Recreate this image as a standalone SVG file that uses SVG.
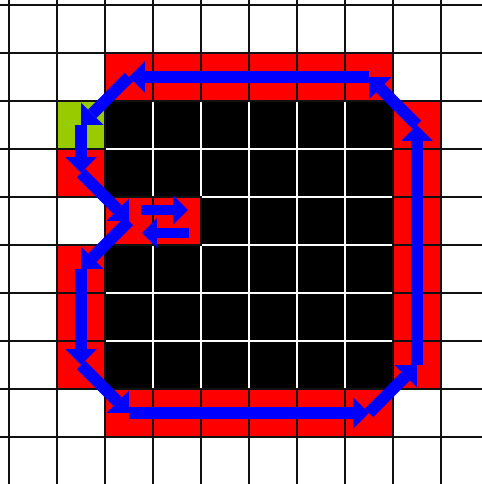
<svg xmlns="http://www.w3.org/2000/svg" width="482" height="484" viewBox="0 0 482 484">
<style>
.w{fill:#fff}.r{fill:#ff0000}.k{fill:#000}.g{fill:#99cc00}
.gl{stroke:#111;stroke-width:2}
.wl{stroke:#fff;stroke-width:2}
.a{stroke:#0000ff;stroke-width:12;fill:none;marker-end:url(#ah)}
.s{stroke:#0000ff;stroke-width:10;fill:none;marker-end:url(#hs)}
</style>
<defs>
<marker id="ah" markerUnits="userSpaceOnUse" markerWidth="20" markerHeight="36" refX="0" refY="0" orient="auto" overflow="visible"><path d="M0,-16 L16,0 L0,16 Z" fill="#0000ff"/></marker>
<marker id="hs" markerUnits="userSpaceOnUse" markerWidth="20" markerHeight="36" refX="0" refY="0" orient="auto" overflow="visible"><path d="M0,-15 L15,0 L0,15 Z" fill="#0000ff"/></marker>
</defs>
<rect class="w" x="0" y="0" width="482" height="484"/>
<g id="cells">
<rect class="r" x="105" y="53" width="288" height="48"/>
<rect class="g" x="57" y="101" width="48" height="48"/>
<rect class="k" x="105" y="101" width="288" height="288"/>
<rect class="r" x="393" y="101" width="48" height="288"/>
<rect class="r" x="57" y="149" width="48" height="48"/>
<rect class="r" x="57" y="245" width="48" height="144"/>
<rect class="r" x="105" y="197" width="96" height="48"/>
<rect class="r" x="105" y="389" width="288" height="48"/>
</g>
<g id="grid">
<path class="gl" d="M9,0V484M57,0V484M105,0V101M105,389V484M153,0V101M153,389V484M201,0V101M201,389V484M249,0V101M249,389V484M297,0V101M297,389V484M345,0V101M345,389V484M393,0V484M441,0V484M105,101V389M153,197V245M201,197V245"/>
<path class="gl" d="M0,5H482M0,53H482M0,101H482M0,149H105M393,149H482M0,197H105M393,197H482M0,245H105M393,245H482M0,293H105M393,293H482M0,341H105M393,341H482M0,389H482M0,437H482M105,197H201M105,245H201"/>
<path class="wl" d="M153,102V196M153,246V388M201,102V196M201,246V388M249,102V388M297,102V388M345,102V388M106,149H392M202,197H392M202,245H392M106,293H392M106,341H392"/>
</g>
<g id="connectors">
<line class="a" x1="369" y1="77" x2="145" y2="77"/>
<line class="a" x1="129" y1="77" x2="92.31" y2="113.69"/>
<line class="a" x1="81" y1="125" x2="81" y2="157"/>
<line class="a" x1="81" y1="173" x2="117.69" y2="209.69"/>
<line class="s" x1="141" y1="210" x2="173" y2="210"/>
<line class="s" x1="189" y1="233" x2="157" y2="233"/>
<line class="a" x1="129" y1="221" x2="92.31" y2="257.69"/>
<line class="a" x1="81" y1="269" x2="81" y2="349"/>
<line class="a" x1="81" y1="365" x2="117.69" y2="401.69"/>
<line class="a" x1="129" y1="413" x2="353" y2="413"/>
<line class="a" x1="369" y1="413" x2="405.69" y2="376.31"/>
<line class="a" x1="417" y1="365" x2="417" y2="141"/>
<line class="a" x1="417" y1="125" x2="380.31" y2="88.31"/>
</g>
</svg>
